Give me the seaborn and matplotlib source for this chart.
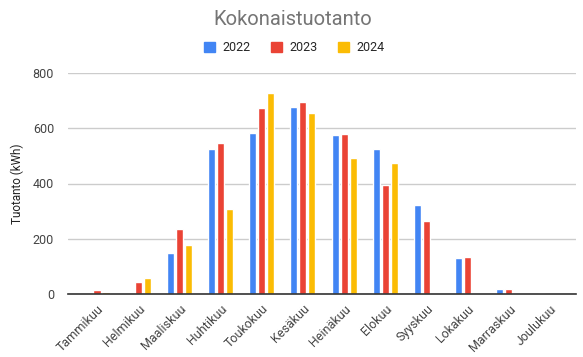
import numpy as np
import pandas as pd
import seaborn as sns
import matplotlib.pyplot as plt
from matplotlib.patches import Patch

months = ["Tammikuu", "Helmikuu", "Maaliskuu", "Huhtikuu", "Toukokuu", "Kesäkuu",
          "Heinäkuu", "Elokuu", "Syyskuu", "Lokakuu", "Marraskuu", "Joulukuu"]
years = ["2022", "2023", "2024"]
v2022 = [np.nan, np.nan, 149, 525, 583, 677, 575, 525, 322, 130, 17, 3]
v2023 = [13, 43, 235, 546, 673, 695, 579, 395, 265, 134, 17, np.nan]
v2024 = [6, 57, 177, 308, 727, 655, 492, 474, np.nan, np.nan, np.nan, np.nan]
colors = ["#4285F4", "#EA4335", "#FBBC04"]

df = pd.DataFrame({
    "Kuukausi": months * 3,
    "Vuosi": np.repeat(years, len(months)),
    "Tuotanto": v2022 + v2023 + v2024,
})

sns.set_style("white")
plt.rcParams["font.family"] = ["Roboto", "DejaVu Sans"]

fig = plt.figure(figsize=(5.83, 3.57), dpi=100)
ax = fig.add_axes([68 / 583, 1 - 294 / 357, (576 - 68) / 583, (294 - 73) / 357])

sns.barplot(data=df, x="Kuukausi", y="Tuotanto", hue="Vuosi", order=months,
            hue_order=years, palette=colors, saturation=1, width=0.656, gap=0.22,
            errorbar=None, legend=False, ax=ax)

ax.set_ylim(0, 800)
ax.set_xlim(-0.704, 11.63)
ax.set_yticks([0, 200, 400, 600, 800])
ax.yaxis.grid(True, color="#cccccc", linewidth=1)
ax.set_axisbelow(True)
for s in ["top", "right", "left"]:
    ax.spines[s].set_visible(False)
ax.spines["bottom"].set_color("#333333")
ax.spines["bottom"].set_linewidth(1.2)
ax.tick_params(axis="y", length=0, pad=10, labelsize=9, labelcolor="#444444")
ax.tick_params(axis="x", length=3, color="#999999", pad=3, labelsize=9, labelcolor="#444444")
plt.setp(ax.get_xticklabels(), rotation=45, ha="right", rotation_mode="anchor")
ax.set_xlabel("")
ax.set_ylabel("Tuotanto (kWh)", fontsize=8.5, color="#222222", labelpad=6)

fig.text(0.503, 0.944, "Kokonaistuotanto", ha="center", va="center",
         fontsize=14.5, color="#757575")
handles = [Patch(color=c, label=y) for c, y in zip(colors, years)]
fig.legend(handles=handles, loc="center", bbox_to_anchor=(0.505, 0.866), ncol=3,
           frameon=False, fontsize=9, handlelength=0.9, handleheight=0.9,
           handletextpad=0.6, columnspacing=1.6)

fig.savefig("out.png", dpi=100)
